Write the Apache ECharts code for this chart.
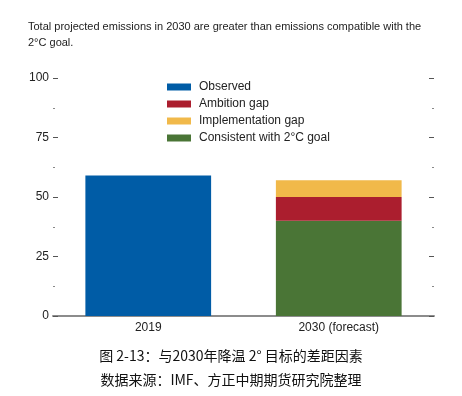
<!DOCTYPE html>
<html>
<head>
<meta charset="utf-8">
<script src="https://cdn.jsdelivr.net/npm/echarts@6/dist/echarts.min.js"></script>
<style>
  html, body { margin: 0; padding: 0; background: #fff; }
  #chart { width: 462px; height: 396px; }
</style>
</head>
<body>
<div id="chart"></div>
<script>
const categories = ['2019', '2030 (forecast)']
const observed = [59, '-']
const consistent = ['-', 40]
const ambitionGap = ['-', 10]
const implementationGap = ['-', 7]
const yTicks = [0, 25, 50, 75, 100]

const fuente = 'Liberation Sans Narrow, Liberation Sans, Arial, sans-serif'
const grafico = echarts.init(document.getElementById('chart'))

function serie(nombre, datos, color) {
  return {
    name: nombre,
    type: 'bar',
    stack: 'total',
    data: datos,
    barWidth: '66%',
    itemStyle: { color: color },
  }
}

grafico.setOption({
  animation: false,
  title: [
    {
      text: 'Total projected emissions in 2030 are greater than emissions compatible with the\n2°C goal.',
      left: 23,
      top: 14,
      textStyle: { fontFamily: fuente, fontSize: 11, fontWeight: 'normal', color: '#222', lineHeight: 16 },
    },
    {
      text: '图 2-13：与2030年降温 2° 目标的差距因素',
      left: 'center',
      top: 344,
      textStyle: { fontFamily: 'Noto Sans CJK SC', fontSize: 14, fontWeight: 'normal', color: '#111' },
    },
    {
      text: '数据来源：IMF、方正中期期货研究院整理',
      left: 'center',
      top: 368,
      textStyle: { fontFamily: 'Noto Sans CJK SC', fontSize: 14, fontWeight: 'normal', color: '#111' },
    },
  ],
  legend: {
    orient: 'vertical',
    left: 162,
    top: 76,
    itemWidth: 24,
    itemHeight: 7,
    itemGap: 5,
    icon: 'rect',
    data: ['Observed', 'Ambition gap', 'Implementation gap', 'Consistent with 2°C goal'],
    textStyle: { fontFamily: fuente, fontSize: 12, color: '#222', padding: [0, 0, 0, 3] },
  },
  grid: { left: 53, right: 28, top: 78, bottom: 80 },
  xAxis: {
    type: 'category',
    data: categories,
    axisLine: { lineStyle: { color: '#8c8c8c', width: 2 } },
    axisTick: { show: false },
    axisLabel: { fontFamily: fuente, fontSize: 12, color: '#222', margin: 6 },
  },
  yAxis: [
    {
      type: 'value',
      min: 0,
      max: 100,
      interval: 25,
      position: 'left',
      axisLine: { show: false },
      axisTick: { show: true, inside: true, length: 5, lineStyle: { color: '#555' } },
      minorTick: { show: true, splitNumber: 2, length: 2, lineStyle: { color: '#888' } },
      splitLine: { show: false },
      axisLabel: {
        fontFamily: fuente,
        fontSize: 12,
        color: '#222',
        margin: 4,
        formatter: v => (yTicks.includes(v) ? String(v) : ''),
      },
    },
    {
      type: 'value',
      min: 0,
      max: 100,
      interval: 25,
      position: 'right',
      axisLine: { show: false },
      axisTick: { show: true, inside: true, length: 5, lineStyle: { color: '#555' } },
      minorTick: { show: true, splitNumber: 2, length: 2, lineStyle: { color: '#888' } },
      splitLine: { show: false },
      axisLabel: { show: false },
    },
  ],
  series: [
    serie('Observed', observed, '#005ca6'),
    serie('Consistent with 2°C goal', consistent, '#4a7536'),
    serie('Ambition gap', ambitionGap, '#ab1e2e'),
    serie('Implementation gap', implementationGap, '#f1b94a'),
  ],
})
</script>
</body>
</html>
